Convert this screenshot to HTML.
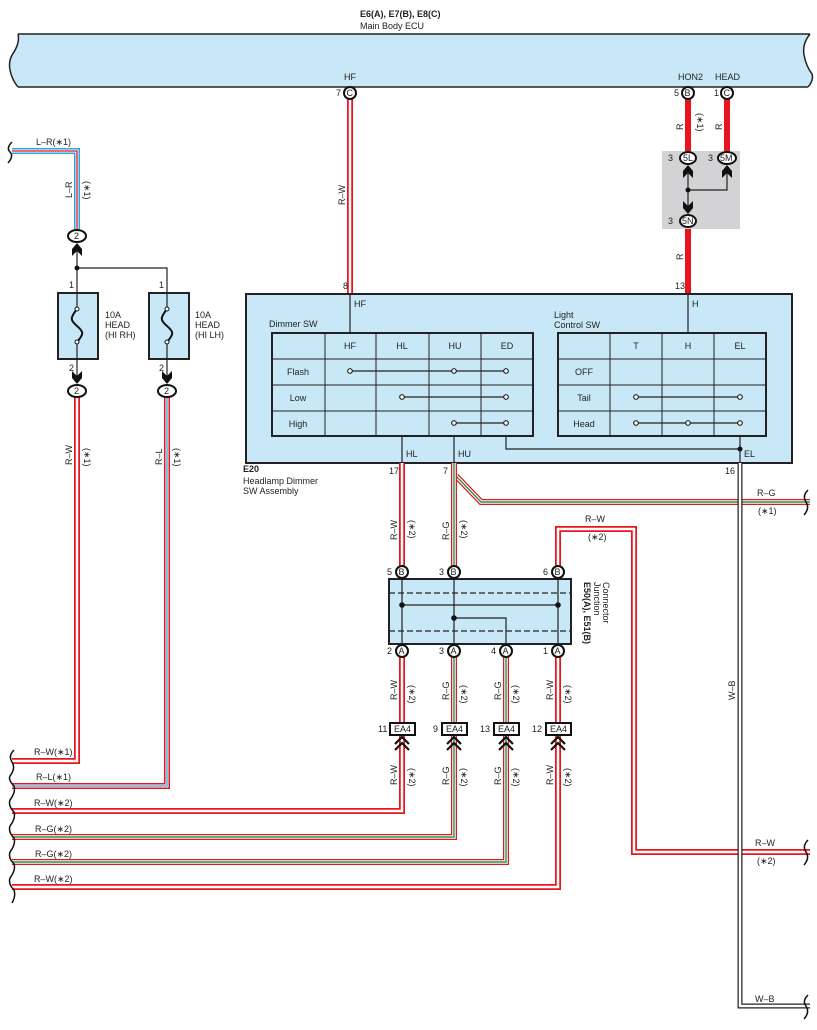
<!DOCTYPE html>
<html><head><meta charset="utf-8"><style>
html,body{margin:0;padding:0;background:#fff}
svg{display:block}
text{font-family:"Liberation Sans",sans-serif;font-size:9px;fill:#222}
</style></head><body>
<svg width="817" height="1030" viewBox="0 0 817 1030" xmlns="http://www.w3.org/2000/svg">
<defs>
<g id="chevU"><path d="M0,-7 L5,-1 L5,6 L0,1 L-5,6 L-5,-1Z" fill="#111"/></g>
<g id="chevD"><path d="M0,7 L5,1 L5,-6 L0,-1 L-5,-6 L-5,1Z" fill="#111"/></g>
<g id="dchev"><path d="M-7,3 L0,-4 L7,3 M-7,9 L0,2 L7,9" fill="none" stroke="#111" stroke-width="2.2"/></g>
</defs>

<!-- ECU title -->
<text x="360" y="17" font-weight="bold">E6(A), E7(B), E8(C)</text>
<text x="360" y="29">Main Body ECU</text>
<!-- ECU bar -->
<path d="M18,34 L810,34 Q802,44 804,55 Q806,66 812,74 Q814,80 808,87 L18,87 Q12,80 10,70 Q8,60 14,52 Q20,42 18,34 Z" fill="#c8e8f7" stroke="none"/>
<path d="M18,34 L810,34 M18,87 L808,87" stroke="#222" stroke-width="1.5"/>
<path d="M18,34 Q20,42 14,52 Q8,60 10,70 Q12,80 18,87" fill="none" stroke="#222" stroke-width="1.5"/>
<path d="M810,34 Q802,44 804,55 Q806,66 812,74 Q814,80 808,87" fill="none" stroke="#222" stroke-width="1.5"/>
<text x="344" y="80">HF</text>
<text x="678" y="80">HON2</text>
<text x="715" y="80">HEAD</text>

<!-- R-W HF wire -->
<path d="M350,99 V293" stroke="#e8151e" stroke-width="6" fill="none"/>
<path d="M350,99 V293" stroke="#fff" stroke-width="2.5" fill="none"/>
<text transform="translate(345,205) rotate(-90)">R–W</text>

<!-- thick R wires -->
<path d="M688,99 V152 M727,99 V152 M688,228 V293" stroke="#e8151e" stroke-width="6"/>
<text transform="translate(683,130) rotate(-90)">R</text>
<text transform="translate(697,113) rotate(90)">(∗1)</text>
<text transform="translate(722,130) rotate(-90)">R</text>
<text transform="translate(683,260) rotate(-90)">R</text>

<!-- gray junction -->
<rect x="662" y="151" width="78" height="78" fill="#d3d3d5"/>
<path d="M688,170 V212 M688,190 H727 V170" stroke="#222" stroke-width="1.2" fill="none"/>
<circle cx="688" cy="190" r="2.5" fill="#111"/>
<use href="#chevU" x="688" y="172"/>
<use href="#chevU" x="727" y="172"/>
<use href="#chevD" x="688" y="207"/>
<ellipse cx="688" cy="158" rx="8" ry="6" fill="#fff" stroke="#111" stroke-width="2"/><text x="683" y="161">5L</text>
<ellipse cx="727" cy="158" rx="9" ry="6" fill="#fff" stroke="#111" stroke-width="2"/><text x="720" y="161">5M</text>
<ellipse cx="688" cy="221" rx="8" ry="6" fill="#fff" stroke="#111" stroke-width="2"/><text x="682" y="224">5N</text>
<text x="668" y="161">3</text><text x="708" y="161">3</text><text x="668" y="224">3</text>

<!-- ECU pins -->
<circle cx="350" cy="93" r="6" fill="#fff" stroke="#111" stroke-width="2"/><text x="346.5" y="96" font-size="8">C</text><text x="336" y="96">7</text>
<circle cx="688" cy="93" r="6" fill="#fff" stroke="#111" stroke-width="2"/><text x="684.5" y="96" font-size="8">B</text><text x="674" y="96">5</text>
<circle cx="727" cy="93" r="6" fill="#fff" stroke="#111" stroke-width="2"/><text x="723.5" y="96" font-size="8">C</text><text x="714" y="96">1</text>

<!-- L-R wire -->
<path d="M12,151 H77 V230" stroke="#29a9e1" stroke-width="6" fill="none"/>
<path d="M12,151 H77 V230" stroke="#fff" stroke-width="3" fill="none"/>
<path d="M12,151 H77 V230" stroke="#e8151e" stroke-width="1.3" fill="none"/>
<text x="36" y="145">L–R(∗1)</text>
<text transform="translate(72,198) rotate(-90)">L–R</text>
<text transform="translate(84,181) rotate(90)">(∗1)</text>
<path d="M12,142 Q6,148 10,152 Q14,156 8,163" fill="none" stroke="#111" stroke-width="1.5"/>
<ellipse cx="77" cy="236" rx="9" ry="6" fill="#fff" stroke="#111" stroke-width="2"/><text x="74" y="239">2</text>
<use href="#chevU" x="77" y="250"/>
<path d="M77,250 V293 M77,268 H167 V293" stroke="#222" stroke-width="1.2" fill="none"/>
<circle cx="77" cy="268" r="2.5" fill="#111"/>

<!-- Fuses -->
<g stroke="#222">
<rect x="58" y="293" width="40" height="66" fill="#c8e8f7" stroke-width="2"/>
<rect x="149" y="293" width="40" height="66" fill="#c8e8f7" stroke-width="2"/>
</g>
<path d="M77,293 V307 M77,344 V380 M167,293 V307 M167,344 V380" stroke="#222" stroke-width="1.2"/>
<path d="M77,309 C70,318 70,320 77,326 C84,332 84,334 77,342" fill="none" stroke="#111" stroke-width="2"/>
<path d="M167,309 C160,318 160,320 167,326 C174,332 174,334 167,342" fill="none" stroke="#111" stroke-width="2"/>
<circle cx="77" cy="309" r="2" fill="#fff" stroke="#111"/><circle cx="77" cy="342" r="2" fill="#fff" stroke="#111"/>
<circle cx="167" cy="309" r="2" fill="#fff" stroke="#111"/><circle cx="167" cy="342" r="2" fill="#fff" stroke="#111"/>
<text x="69" y="288">1</text><text x="159" y="288">1</text>
<text x="69" y="371">2</text><text x="159" y="371">2</text>
<text x="105" y="318">10A</text><text x="105" y="328">HEAD</text><text x="105" y="338">(HI RH)</text>
<text x="195" y="318">10A</text><text x="195" y="328">HEAD</text><text x="195" y="338">(HI LH)</text>
<use href="#chevD" x="77" y="377"/>
<use href="#chevD" x="167" y="377"/>

<!-- fuse output wires -->
<path d="M77,397 V761 H12" stroke="#e8151e" stroke-width="6" fill="none"/>
<path d="M77,397 V761 H12" stroke="#fff" stroke-width="2.5" fill="none"/>
<path d="M167,397 V786 H12" stroke="#e8151e" stroke-width="6" fill="none"/>
<path d="M167,397 V786 H12" stroke="#fff" stroke-width="3" fill="none"/>
<path d="M167,397 V786 H12" stroke="#29a9e1" stroke-width="1.3" fill="none"/>
<ellipse cx="77" cy="391" rx="9" ry="6" fill="#fff" stroke="#111" stroke-width="2"/><text x="74" y="394">2</text>
<ellipse cx="167" cy="391" rx="9" ry="6" fill="#fff" stroke="#111" stroke-width="2"/><text x="164" y="394">2</text>
<text transform="translate(72,465) rotate(-90)">R–W</text>
<text transform="translate(84,448) rotate(90)">(∗1)</text>
<text transform="translate(162,465) rotate(-90)">R–L</text>
<text transform="translate(174,448) rotate(90)">(∗1)</text>

<!-- E20 box -->
<rect x="246" y="294" width="546" height="169" fill="#c8e8f7" stroke="#222" stroke-width="2"/>
<text x="354" y="307">HF</text><text x="692" y="307">H</text>
<text x="269" y="327">Dimmer SW</text>
<text x="554" y="318">Light</text><text x="554" y="328">Control SW</text>
<path d="M350,294 V333 M688,294 V333 M402,436 V463 M454,436 V463 M506,436 V449 H740 M740,436 V463" stroke="#222" stroke-width="1.2" fill="none"/>
<circle cx="740" cy="449" r="2.5" fill="#111"/>
<text x="406" y="457">HL</text><text x="458" y="457">HU</text><text x="744" y="457">EL</text>
<!-- dimmer table -->
<g stroke="#222" fill="none">
<rect x="272" y="333" width="261" height="103" stroke-width="2"/>
<path d="M325,333V436 M376,333V436 M429,333V436 M481,333V436 M272,359H533 M272,385H533 M272,411H533" stroke-width="1"/>
<rect x="558" y="333" width="208" height="103" stroke-width="2"/>
<path d="M610,333V436 M662,333V436 M714,333V436 M558,359H766 M558,385H766 M558,411H766" stroke-width="1"/>
</g>
<g text-anchor="middle">
<text x="350" y="349">HF</text><text x="402" y="349">HL</text><text x="455" y="349">HU</text><text x="507" y="349">ED</text>
<text x="298" y="375">Flash</text><text x="298" y="401">Low</text><text x="298" y="427">High</text>
<text x="636" y="349">T</text><text x="688" y="349">H</text><text x="740" y="349">EL</text>
<text x="584" y="375">OFF</text><text x="584" y="401">Tail</text><text x="584" y="427">Head</text>
</g>
<g stroke="#222" stroke-width="1.2">
<path d="M350,371H506 M402,397H506 M454,423H506 M636,397H740 M636,423H740"/>
</g>
<g fill="#fff" stroke="#222" stroke-width="1.2">
<circle cx="350" cy="371" r="2.3"/><circle cx="454" cy="371" r="2.3"/><circle cx="506" cy="371" r="2.3"/>
<circle cx="402" cy="397" r="2.3"/><circle cx="506" cy="397" r="2.3"/>
<circle cx="454" cy="423" r="2.3"/><circle cx="506" cy="423" r="2.3"/>
<circle cx="636" cy="397" r="2.3"/><circle cx="740" cy="397" r="2.3"/>
<circle cx="636" cy="423" r="2.3"/><circle cx="688" cy="423" r="2.3"/><circle cx="740" cy="423" r="2.3"/>
</g>
<text x="343" y="289">8</text><text x="675" y="289">13</text>
<text x="243" y="472" font-weight="bold">E20</text>
<text x="243" y="484">Headlamp Dimmer</text>
<text x="243" y="494">SW Assembly</text>
<text x="389" y="474">17</text><text x="443" y="474">7</text><text x="725" y="474">16</text>

<!-- W-B wire -->
<path d="M740,463 V1006 H810" stroke="#222" stroke-width="5" fill="none"/>
<path d="M740,463 V1006 H810" stroke="#fff" stroke-width="2.5" fill="none"/>
<text transform="translate(735,700) rotate(-90)">W–B</text>
<text x="755" y="1002">W–B</text>

<!-- R-G (*1) branch -->
<path d="M456,476 L481,502 H810" stroke="#e8151e" stroke-width="6" fill="none"/>
<path d="M456,476 L481,502 H810" stroke="#fff" stroke-width="3.5" fill="none"/>
<path d="M456,476 L481,502 H810" stroke="#1a9a55" stroke-width="1.4" fill="none"/>
<path d="M740,490 V515" stroke="#222" stroke-width="5"/><path d="M740,490 V515" stroke="#fff" stroke-width="2.5"/>
<text x="757" y="496">R–G</text><text x="758" y="514">(∗1)</text>

<!-- R-W 17 -->
<path d="M402,463 V566" stroke="#e8151e" stroke-width="6"/><path d="M402,463 V566" stroke="#fff" stroke-width="2.5"/>
<!-- R-G 7 -->
<path d="M454,463 V566" stroke="#e8151e" stroke-width="6"/><path d="M454,463 V566" stroke="#fff" stroke-width="3.5"/><path d="M454,463 V566" stroke="#1a9a55" stroke-width="1.4"/>
<text transform="translate(397,540) rotate(-90)">R–W</text><text transform="translate(409,520) rotate(90)">(∗2)</text>
<text transform="translate(449,540) rotate(-90)">R–G</text><text transform="translate(461,520) rotate(90)">(∗2)</text>

<!-- R-W (*2) loop -->
<path d="M558,566 V529 H634 V852 H810" stroke="#e8151e" stroke-width="6" fill="none"/>
<path d="M558,566 V529 H634 V852 H810" stroke="#fff" stroke-width="2.5" fill="none"/>
<text x="585" y="522">R–W</text><text x="588" y="540">(∗2)</text>
<path d="M740,840 V865" stroke="#222" stroke-width="5"/><path d="M740,840 V865" stroke="#fff" stroke-width="2.5"/>
<text x="755" y="846">R–W</text><text x="757" y="864">(∗2)</text>

<!-- Junction connector -->
<rect x="389" y="579" width="182" height="65" fill="#c8e8f7" stroke="#222" stroke-width="2"/>
<path d="M389,593 H571 M389,631 H571" stroke="#222" stroke-width="1.2" stroke-dasharray="6,3"/>
<path d="M402,579V644 M454,579V644 M558,579V644 M402,605H558 M454,618H506V644" stroke="#222" stroke-width="1.2" fill="none"/>
<circle cx="402" cy="605" r="2.8" fill="#111"/><circle cx="558" cy="605" r="2.8" fill="#111"/><circle cx="454" cy="618" r="2.8" fill="#111"/>
<text transform="translate(584,582) rotate(90)" font-weight="bold">E50(A), E51(B)</text>
<text transform="translate(594,582) rotate(90)">Junction</text>
<text transform="translate(603,582) rotate(90)">Connector</text>

<!-- lower wires -->
<g fill="none">
<path d="M402,657 V811 H12" stroke="#e8151e" stroke-width="6"/><path d="M402,657 V811 H12" stroke="#fff" stroke-width="2.5"/>
<path d="M454,657 V837 H12" stroke="#e8151e" stroke-width="6"/><path d="M454,657 V837 H12" stroke="#fff" stroke-width="3.5"/><path d="M454,657 V837 H12" stroke="#1a9a55" stroke-width="1.4"/>
<path d="M506,657 V862 H12" stroke="#e8151e" stroke-width="6"/><path d="M506,657 V862 H12" stroke="#fff" stroke-width="3.5"/><path d="M506,657 V862 H12" stroke="#1a9a55" stroke-width="1.4"/>
<path d="M558,657 V887 H12" stroke="#e8151e" stroke-width="6"/><path d="M558,657 V887 H12" stroke="#fff" stroke-width="2.5"/>
</g>
<g>
<text transform="translate(397,700) rotate(-90)">R–W</text><text transform="translate(409,685) rotate(90)">(∗2)</text>
<text transform="translate(449,700) rotate(-90)">R–G</text><text transform="translate(461,685) rotate(90)">(∗2)</text>
<text transform="translate(501,700) rotate(-90)">R–G</text><text transform="translate(513,685) rotate(90)">(∗2)</text>
<text transform="translate(553,700) rotate(-90)">R–W</text><text transform="translate(565,685) rotate(90)">(∗2)</text>
<text transform="translate(397,785) rotate(-90)">R–W</text><text transform="translate(409,768) rotate(90)">(∗2)</text>
<text transform="translate(449,785) rotate(-90)">R–G</text><text transform="translate(461,768) rotate(90)">(∗2)</text>
<text transform="translate(501,785) rotate(-90)">R–G</text><text transform="translate(513,768) rotate(90)">(∗2)</text>
<text transform="translate(553,785) rotate(-90)">R–W</text><text transform="translate(565,768) rotate(90)">(∗2)</text>
</g>
<!-- EA4 -->
<g fill="#fff" stroke="#111" stroke-width="2">
<rect x="390" y="723" width="25" height="12"/><rect x="442" y="723" width="25" height="12"/><rect x="494" y="723" width="25" height="12"/><rect x="546" y="723" width="25" height="12"/>
</g>
<g font-size="8.5"><text x="394" y="732">EA4</text><text x="446" y="732">EA4</text><text x="498" y="732">EA4</text><text x="550" y="732">EA4</text></g>
<text x="378" y="732">11</text><text x="433" y="732">9</text><text x="480" y="732">13</text><text x="532" y="732">12</text>
<use href="#dchev" x="402" y="741"/><use href="#dchev" x="454" y="741"/><use href="#dchev" x="506" y="741"/><use href="#dchev" x="558" y="741"/>

<!-- pins B / A -->
<g fill="#fff" stroke="#111" stroke-width="2">
<circle cx="402" cy="572" r="6"/><circle cx="454" cy="572" r="6"/><circle cx="558" cy="572" r="6"/>
<circle cx="402" cy="651" r="6"/><circle cx="454" cy="651" r="6"/><circle cx="506" cy="651" r="6"/><circle cx="558" cy="651" r="6"/>
</g>
<g font-size="8"><text x="398.5" y="575">B</text><text x="450.5" y="575">B</text><text x="554.5" y="575">B</text>
<text x="398.5" y="654">A</text><text x="450.5" y="654">A</text><text x="502.5" y="654">A</text><text x="554.5" y="654">A</text></g>
<text x="387" y="575">5</text><text x="439" y="575">3</text><text x="543" y="575">6</text>
<text x="387" y="654">2</text><text x="439" y="654">3</text><text x="491" y="654">4</text><text x="543" y="654">1</text>

<!-- left labels -->
<text x="34" y="755">R–W(∗1)</text>
<text x="36" y="780">R–L(∗1)</text>
<text x="34" y="806">R–W(∗2)</text>
<text x="35" y="832">R–G(∗2)</text>
<text x="35" y="857">R–G(∗2)</text>
<text x="34" y="882">R–W(∗2)</text>
<path d="M14,750 Q8,756 12,762 Q16,768 10,776 Q8,780 14,786 Q16,792 10,800 Q8,806 14,812 Q16,818 10,826 Q8,832 14,838 Q16,844 10,852 Q8,858 14,864 Q16,870 10,878 Q8,884 14,890 Q16,896 12,903" fill="none" stroke="#111" stroke-width="1.5"/>
<!-- right wave ends -->
<path d="M808,490 Q802,496 806,502 Q810,508 804,515" fill="none" stroke="#111" stroke-width="1.5"/>
<path d="M808,840 Q802,846 806,852 Q810,858 804,865" fill="none" stroke="#111" stroke-width="1.5"/>
<path d="M808,995 Q802,1001 806,1006 Q810,1012 804,1019" fill="none" stroke="#111" stroke-width="1.5"/>
</svg>
</body></html>
